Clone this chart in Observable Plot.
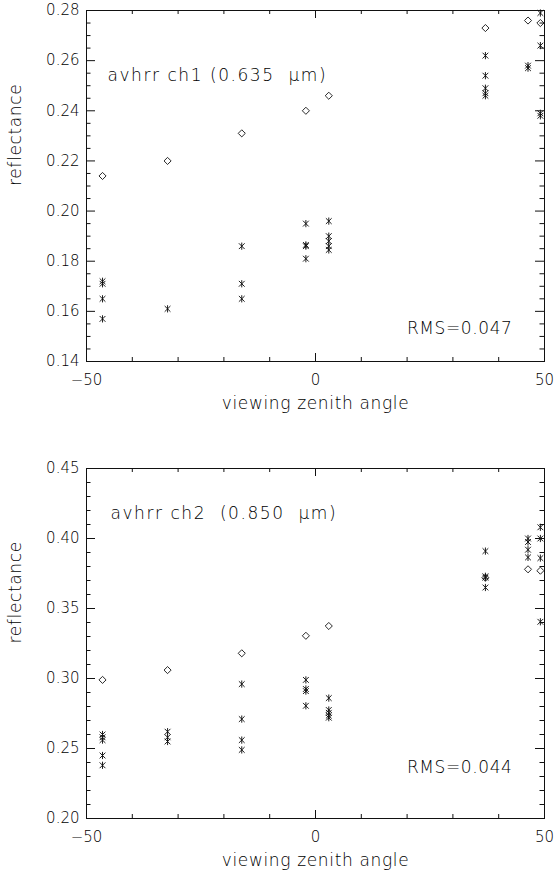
<!DOCTYPE html>
<html><head><meta charset="utf-8">
<script src="https://cdn.jsdelivr.net/npm/d3@7"></script>
<script src="https://cdn.jsdelivr.net/npm/@observablehq/plot@0.6"></script>
<style>
html,body{margin:0;padding:0;background:#fff;}
#chart svg{display:block;}
svg text{white-space:pre;}
</style></head><body><div id="chart"></div>
<script>
// viewing zenith angles (shared by both channels)
const angles = [-46.5, -32.3, -16.1, -2.1, 2.9, 37.1, 46.4, 49.1];

// channel 1 (0.635 um): model (diamonds) and observations (asterisks)
const ch1Model = [0.214, 0.220, 0.231, 0.240, 0.246, 0.273, 0.276, 0.275];
const ch1Obs = [
  [0.172, 0.171, 0.165, 0.157],
  [0.161],
  [0.186, 0.171, 0.165],
  [0.195, 0.1865, 0.186, 0.181],
  [0.196, 0.190, 0.188, 0.186, 0.1845],
  [0.262, 0.254, 0.249, 0.247, 0.246],
  [0.258, 0.257],
  [0.279, 0.266, 0.239, 0.238]
];

// channel 2 (0.850 um)
const ch2Model = [0.299, 0.306, 0.318, 0.3305, 0.3375, 0.372, 0.378, 0.377];
const ch2Obs = [
  [0.260, 0.258, 0.256, 0.245, 0.238],
  [0.262, 0.258, 0.255],
  [0.296, 0.271, 0.256, 0.249],
  [0.299, 0.2925, 0.291, 0.2805],
  [0.286, 0.2775, 0.2755, 0.2735, 0.272],
  [0.391, 0.373, 0.372, 0.365],
  [0.400, 0.3975, 0.392, 0.3865],
  [0.408, 0.400, 0.386, 0.3405]
];

const xTicks = [-50, 0, 50];
const xTickLabels = ["\u221250", "0", "50"];
const xMinorTicks = [-40, -30, -20, -10, 10, 20, 30, 40];

const ch1YTicks = [0.14, 0.16, 0.18, 0.20, 0.22, 0.24, 0.26, 0.28];
const ch1YTickLabels = ["0.14", "0.16", "0.18", "0.20", "0.22", "0.24", "0.26", "0.28"];
const ch1YMinor = [0.145, 0.15, 0.155, 0.165, 0.17, 0.175, 0.185, 0.19, 0.195, 0.205, 0.21, 0.215,
                   0.225, 0.23, 0.235, 0.245, 0.25, 0.255, 0.265, 0.27, 0.275];

const ch2YTicks = [0.20, 0.25, 0.30, 0.35, 0.40, 0.45];
const ch2YTickLabels = ["0.20", "0.25", "0.30", "0.35", "0.40", "0.45"];
const ch2YMinor = [0.21, 0.22, 0.23, 0.24, 0.26, 0.27, 0.28, 0.29, 0.31, 0.32, 0.33, 0.34,
                   0.36, 0.37, 0.38, 0.39, 0.41, 0.42, 0.43, 0.44];

const xTitle = "viewing zenith angle";
const yTitle = "reflectance";

// IDL-like asterisk: vertical bar plus an X
const idlAsterisk = {
  draw(context, size) {
    const r = Math.sqrt(size / Math.PI);
    const d = r * 0.8;
    context.moveTo(0, -r); context.lineTo(0, r);
    context.moveTo(-d, -d); context.lineTo(d, d);
    context.moveTo(-d, d); context.lineTo(d, -d);
  }
};

const INK = "#111";
const TEXT = "#000";
const FONT = "DejaVu Sans";

function panel(cfg) {
  const W = 556, ML = 86, MR = 12;
  const fw = W - ML - MR;
  const fh = cfg.height - cfg.marginTop - cfg.marginBottom;
  const modelRows = angles.map((a, i) => ({angle: a, value: cfg.model[i]}));
  const obsRows = angles.flatMap((a, i) => cfg.obs[i].map(v => ({angle: a, value: v})));
  const yMaj = 9, yMin = 4.5, xMaj = 8, xMin = 4;
  const ts = {fill: TEXT, fontWeight: 200};
  return Plot.plot({
    width: W, height: cfg.height,
    marginLeft: ML, marginRight: MR, marginTop: cfg.marginTop, marginBottom: cfg.marginBottom,
    style: {fontFamily: FONT, background: "#fff", color: INK, overflow: "visible"},
    x: {domain: [-50, 50], axis: null},
    y: {domain: cfg.yDomain, axis: null},
    marks: [
      Plot.frame({stroke: INK, strokeWidth: 1}),
      Plot.ruleY(cfg.yTicks, {insetRight: fw - yMaj, stroke: INK}),
      Plot.ruleY(cfg.yTicks, {insetLeft: fw - yMaj, stroke: INK}),
      Plot.ruleY(cfg.yMinor, {insetRight: fw - yMin, stroke: INK}),
      Plot.ruleY(cfg.yMinor, {insetLeft: fw - yMin, stroke: INK}),
      Plot.ruleX(xTicks, {insetTop: fh - xMaj, stroke: INK}),
      Plot.ruleX(xTicks, {insetBottom: fh - xMaj, stroke: INK}),
      Plot.ruleX(xMinorTicks, {insetTop: fh - xMin, stroke: INK}),
      Plot.ruleX(xMinorTicks, {insetBottom: fh - xMin, stroke: INK}),
      Plot.text(cfg.yTicks, {y: d => d, text: (d, i) => cfg.yTickLabels[i], frameAnchor: "left",
        textAnchor: "end", dx: -7, fontSize: 15, className: "ls-tick", ...ts}),
      Plot.text(xTicks, {x: d => d, text: (d, i) => xTickLabels[i], frameAnchor: "bottom",
        dy: 23, fontSize: 15, className: "ls-tick", ...ts}),
      Plot.text([xTitle], {frameAnchor: "bottom", dy: 47, fontSize: 17, className: "ls-xt", ...ts}),
      Plot.text([yTitle], {frameAnchor: "left", dx: -71, dy: 0, rotate: -90, fontSize: 17, className: "ls-yt", ...ts}),
      Plot.text([cfg.label], {frameAnchor: "top-left", textAnchor: "start", dx: cfg.labelDx, dy: cfg.labelDy,
        fontSize: 17, className: "ls-ann", ...ts}),
      Plot.text([cfg.rms], {frameAnchor: "bottom-right", textAnchor: "end", dx: -32, dy: cfg.rmsDy,
        fontSize: 17, className: "ls-rms", ...ts}),
      Plot.dot(obsRows, {x: "angle", y: "value", symbol: idlAsterisk, r: 3.6, stroke: INK, strokeWidth: 0.95, fill: "none"}),
      Plot.dot(modelRows, {x: "angle", y: "value", symbol: "diamond2", r: 3.2, stroke: INK, strokeWidth: 0.9, fill: "none"})
    ]
  });
}

const topPanel = panel({
  model: ch1Model, obs: ch1Obs, yDomain: [0.14, 0.28],
  yTicks: ch1YTicks, yTickLabels: ch1YTickLabels, yMinor: ch1YMinor,
  label: "avhrr ch1 (0.635  \u03bcm)", rms: "RMS=0.047",
  height: 438, marginTop: 10, marginBottom: 77,
  labelDx: 21, labelDy: 58, rmsDy: -28
});
const bottomPanel = panel({
  model: ch2Model, obs: ch2Obs, yDomain: [0.20, 0.45],
  yTicks: ch2YTicks, yTickLabels: ch2YTickLabels, yMinor: ch2YMinor,
  label: "avhrr ch2  (0.850  \u03bcm)", rms: "RMS=0.044",
  height: 438, marginTop: 30, marginBottom: 58,
  labelDx: 24, labelDy: 38, rmsDy: -46
});
const root = document.getElementById("chart");
root.appendChild(topPanel);
root.appendChild(bottomPanel);
const spacing = {"ls-xt": "0.65px", "ls-yt": "0.65px", "ls-ann": "1.55px", "ls-rms": "0.6px", "ls-tick": "0px"};
for (const [cls, ls] of Object.entries(spacing)) {
  for (const g of root.querySelectorAll("g." + cls)) g.setAttribute("letter-spacing", ls);
}
</script></body></html>
